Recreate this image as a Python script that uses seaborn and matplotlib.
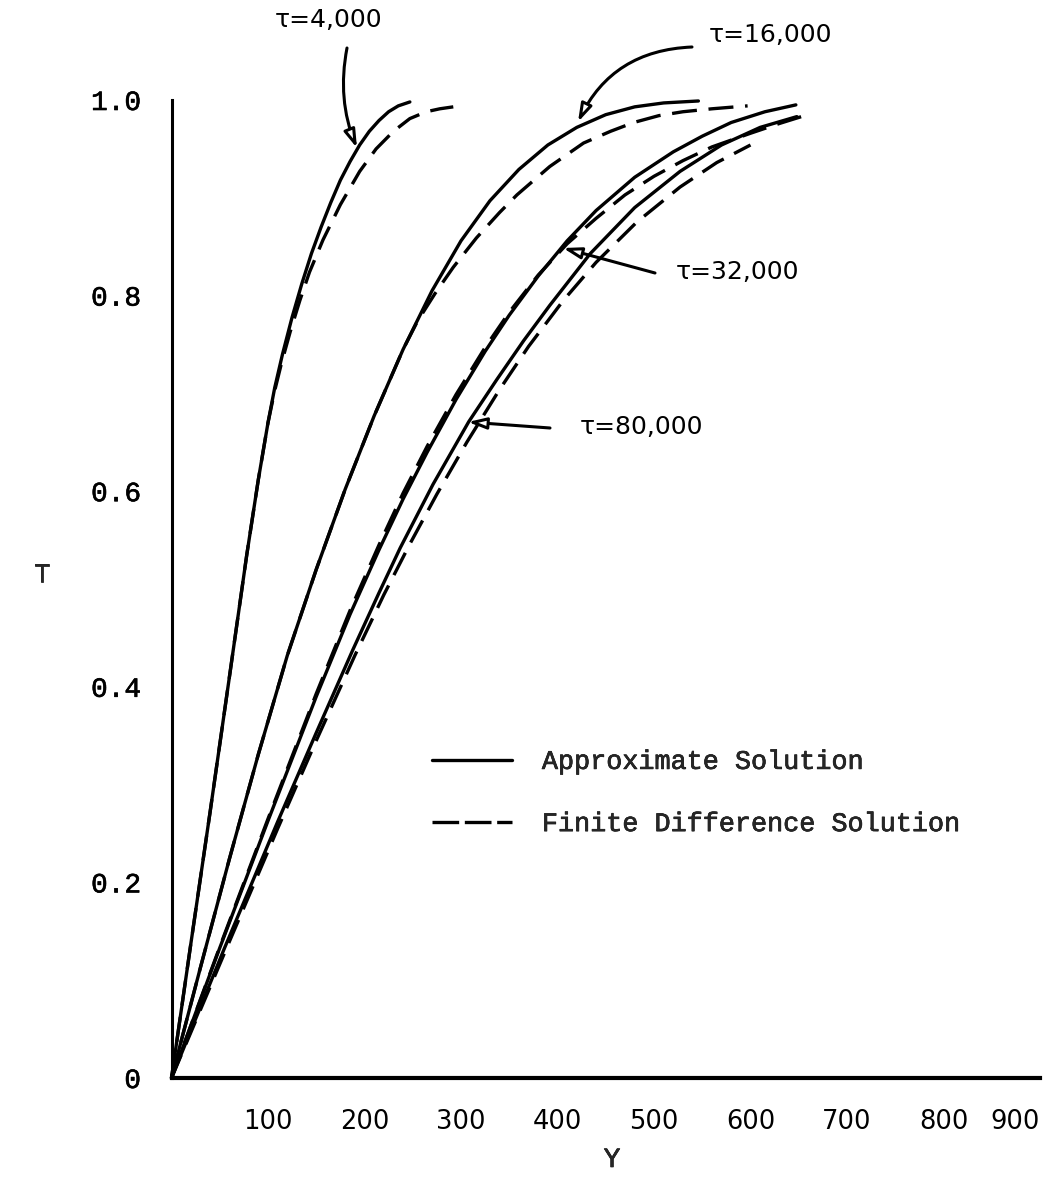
import matplotlib
matplotlib.use("Agg")
import matplotlib.pyplot as plt
import matplotlib.patheffects as pe
from matplotlib.lines import Line2D
import seaborn as sns
import pandas as pd

# ---- data: T versus Y for each time tau ----
y_4k_approx = [0, 20, 40, 60, 78, 90, 100, 107, 115, 125, 135, 145, 155, 165, 175, 185, 195, 205, 215, 225, 235, 247]
t_4k_approx = [0, 0.137, 0.272, 0.41, 0.535, 0.612, 0.67, 0.706, 0.74, 0.778, 0.812, 0.843, 0.87, 0.895, 0.918, 0.937, 0.954, 0.968, 0.979, 0.988, 0.994, 0.998]

y_4k_fd = [0, 20, 40, 60, 78, 90, 100, 107, 114, 123, 133, 143, 157, 175, 195, 212, 230, 247, 264, 278, 292]
t_4k_fd = [0, 0.137, 0.272, 0.41, 0.535, 0.612, 0.67, 0.703, 0.731, 0.763, 0.795, 0.824, 0.857, 0.893, 0.927, 0.95, 0.968, 0.981, 0.988, 0.991, 0.993]

y_16k_approx = [0, 30, 60, 90, 120, 150, 180, 210, 240, 270, 300, 330, 360, 390, 420, 450, 480, 510, 546]
t_16k_approx = [0, 0.113, 0.224, 0.331, 0.432, 0.52, 0.602, 0.677, 0.745, 0.805, 0.856, 0.897, 0.929, 0.954, 0.972, 0.985, 0.993, 0.997, 0.999]

y_16k_fd = [0, 30, 60, 90, 120, 150, 180, 210, 240, 255, 273, 292, 316, 340, 358, 392, 427, 455, 479, 505, 530, 560, 597]
t_16k_fd = [0, 0.113, 0.224, 0.331, 0.432, 0.52, 0.602, 0.677, 0.745, 0.774, 0.802, 0.829, 0.859, 0.885, 0.903, 0.932, 0.956, 0.968, 0.977, 0.984, 0.988, 0.991, 0.994]

y_32k_approx = [0, 50, 100, 150, 185, 215, 240, 265, 295, 325, 350, 380, 410, 440, 480, 520, 550, 580, 615, 647]
t_32k_approx = [0, 0.133, 0.263, 0.39, 0.474, 0.54, 0.592, 0.64, 0.694, 0.743, 0.78, 0.82, 0.856, 0.887, 0.921, 0.947, 0.963, 0.977, 0.988, 0.995]

y_32k_fd = [0, 50, 100, 150, 185, 215, 240, 265, 295, 325, 350, 380, 410, 440, 470, 500, 530, 560, 600, 630, 656]
t_32k_fd = [0, 0.134, 0.265, 0.393, 0.478, 0.545, 0.598, 0.646, 0.699, 0.747, 0.783, 0.821, 0.853, 0.879, 0.903, 0.922, 0.938, 0.952, 0.966, 0.976, 0.984]

y_80k_approx = [0, 55, 110, 150, 188, 215, 237, 271, 308, 337, 365, 392, 434, 480, 527, 570, 610, 648]
t_80k_approx = [0, 0.133, 0.262, 0.353, 0.438, 0.496, 0.542, 0.607, 0.671, 0.714, 0.754, 0.79, 0.843, 0.89, 0.927, 0.954, 0.972, 0.983]

y_80k_fd = [0, 55, 110, 150, 190, 220, 247, 275, 306, 340, 370, 406, 440, 482, 527, 565, 600]
t_80k_fd = [0, 0.128, 0.255, 0.345, 0.432, 0.494, 0.546, 0.597, 0.65, 0.704, 0.748, 0.795, 0.834, 0.875, 0.911, 0.936, 0.954]

x_ticks = [100, 200, 300, 400, 500, 600, 700, 800, 900]
x_tick_labels = ["100", "200", "300", "400", "500", "600", "700", "800", "900"]
y_ticks = [0, 0.2, 0.4, 0.6, 0.8, 1.0]
y_tick_labels = ["0", "0.2", "0.4", "0.6", "0.8", "1.0"]

tau_labels = ["\u03c4=4,000", "\u03c4=16,000", "\u03c4=32,000", "\u03c4=80,000"]
legend_labels = ["Approximate Solution", "Finite Difference Solution"]

# ---- styling ----
sns.set_theme(style="white")
plt.rcParams["font.family"] = ["Liberation Mono", "DejaVu Sans"]

W, H, DPI = 1062, 1201, 100
fig = plt.figure(figsize=(W / DPI, H / DPI), dpi=DPI, facecolor="white")
ax = fig.add_axes([171.5 / W, 123 / H, 868.5 / W, 978 / H])
ax.set_facecolor("white")

LW = 2.4
DASH = (0, (7.5, 3.5))
LEGEND_DASH = (0, (8.0, 1.7))
# slightly heavier strokes for the typewriter lettering
INK = [pe.withStroke(linewidth=0.45, foreground="black")]

curves = [
    (y_4k_approx, t_4k_approx, "-"),
    (y_4k_fd, t_4k_fd, DASH),
    (y_16k_approx, t_16k_approx, "-"),
    (y_16k_fd, t_16k_fd, DASH),
    (y_32k_approx, t_32k_approx, "-"),
    (y_32k_fd, t_32k_fd, DASH),
    (y_80k_approx, t_80k_approx, "-"),
    (y_80k_fd, t_80k_fd, DASH),
]
for ys, ts, ls in curves:
    df = pd.DataFrame({"Y": ys, "T": ts})
    sns.lineplot(data=df, x="Y", y="T", sort=False, estimator=None, ax=ax,
                 color="black", linewidth=LW, linestyle=ls, clip_on=False)

ax.set_xlim(0, 900)
ax.set_ylim(0, 1.0)
ax.set_xlabel("")
ax.set_ylabel("")

# spines: only left and bottom
for side in ("top", "right"):
    ax.spines[side].set_visible(False)
ax.spines["left"].set_linewidth(2.2)
ax.spines["bottom"].set_linewidth(3.0)
ax.spines["left"].set_color("black")
ax.spines["bottom"].set_color("black")

ax.set_xticks(x_ticks)
ax.set_xticklabels(x_tick_labels, fontfamily="DejaVu Sans", fontsize=18.5)
# the last label sits just left of its tick, at the end of the axis
ax.get_xticklabels()[-1].set_horizontalalignment("right")
ax.set_yticks(y_ticks)
ax.set_yticklabels(y_tick_labels, fontfamily="Liberation Mono", fontsize=20)
for lab in ax.get_yticklabels():
    lab.set_path_effects(INK)
ax.tick_params(axis="x", direction="out", length=9, width=2.0, pad=13, colors="black")
ax.tick_params(axis="y", direction="out", length=9, width=2.0, pad=13, colors="black")
ax.yaxis.get_major_ticks()[0].tick1line.set_visible(False)

# axis titles
fig.text(42 / W, 1 - 575 / H, "T", fontsize=20, family="Liberation Mono",
         ha="center", va="center", path_effects=INK)
fig.text(612 / W, 1 - 1160 / H, "Y", fontsize=20, family="Liberation Mono",
         ha="center", va="center", path_effects=INK)

# legend
handles = [Line2D([], [], color="black", lw=LW, linestyle="-"),
           Line2D([], [], color="black", lw=LW, linestyle=LEGEND_DASH)]
leg = ax.legend(handles, legend_labels, loc="center left",
                bbox_to_anchor=(432 / W, 1 - 793 / H), bbox_transform=fig.transFigure,
                frameon=False, prop={"family": "Liberation Mono", "size": 19.3},
                handlelength=3.0, handletextpad=1.1, labelspacing=1.35,
                borderpad=0, borderaxespad=0)
for txt in leg.get_texts():
    txt.set_path_effects(INK)

# tau annotations: label text plus an arrow pointing to the curve
label_font = dict(fontsize=18, family="DejaVu Sans", color="black")


def px(xp, yp):
    # figure pixel position (from top-left) -> data coordinates
    return ax.transData.inverted().transform((xp, H - yp))


arrow_kw = dict(arrowstyle="-|>,head_length=0.9,head_width=0.28",
                color="black", lw=2.2, fc="white", shrinkA=0, shrinkB=0)

# tau = 4,000
ax.text(*px(275, 20), tau_labels[0], ha="left", va="center", **label_font)
ax.annotate("", xy=px(357, 148), xytext=px(347, 48), annotation_clip=False,
            arrowprops=dict(connectionstyle="arc3,rad=0.15", **arrow_kw))
# tau = 16,000
ax.text(*px(709, 35), tau_labels[1], ha="left", va="center", **label_font)
ax.annotate("", xy=px(578, 122), xytext=px(692, 47), annotation_clip=False,
            arrowprops=dict(connectionstyle="arc3,rad=0.3", **arrow_kw))
# tau = 32,000
ax.text(*px(676, 272), tau_labels[2], ha="left", va="center", **label_font)
ax.annotate("", xy=px(563, 248), xytext=px(655, 273), annotation_clip=False,
            arrowprops=dict(connectionstyle="arc3,rad=0.0", **arrow_kw))
# tau = 80,000
ax.text(*px(580, 427), tau_labels[3], ha="left", va="center", **label_font)
ax.annotate("", xy=px(468, 422), xytext=px(550, 428), annotation_clip=False,
            arrowprops=dict(connectionstyle="arc3,rad=0.0", **arrow_kw))

fig.savefig("out.png", dpi=DPI, facecolor="white")
